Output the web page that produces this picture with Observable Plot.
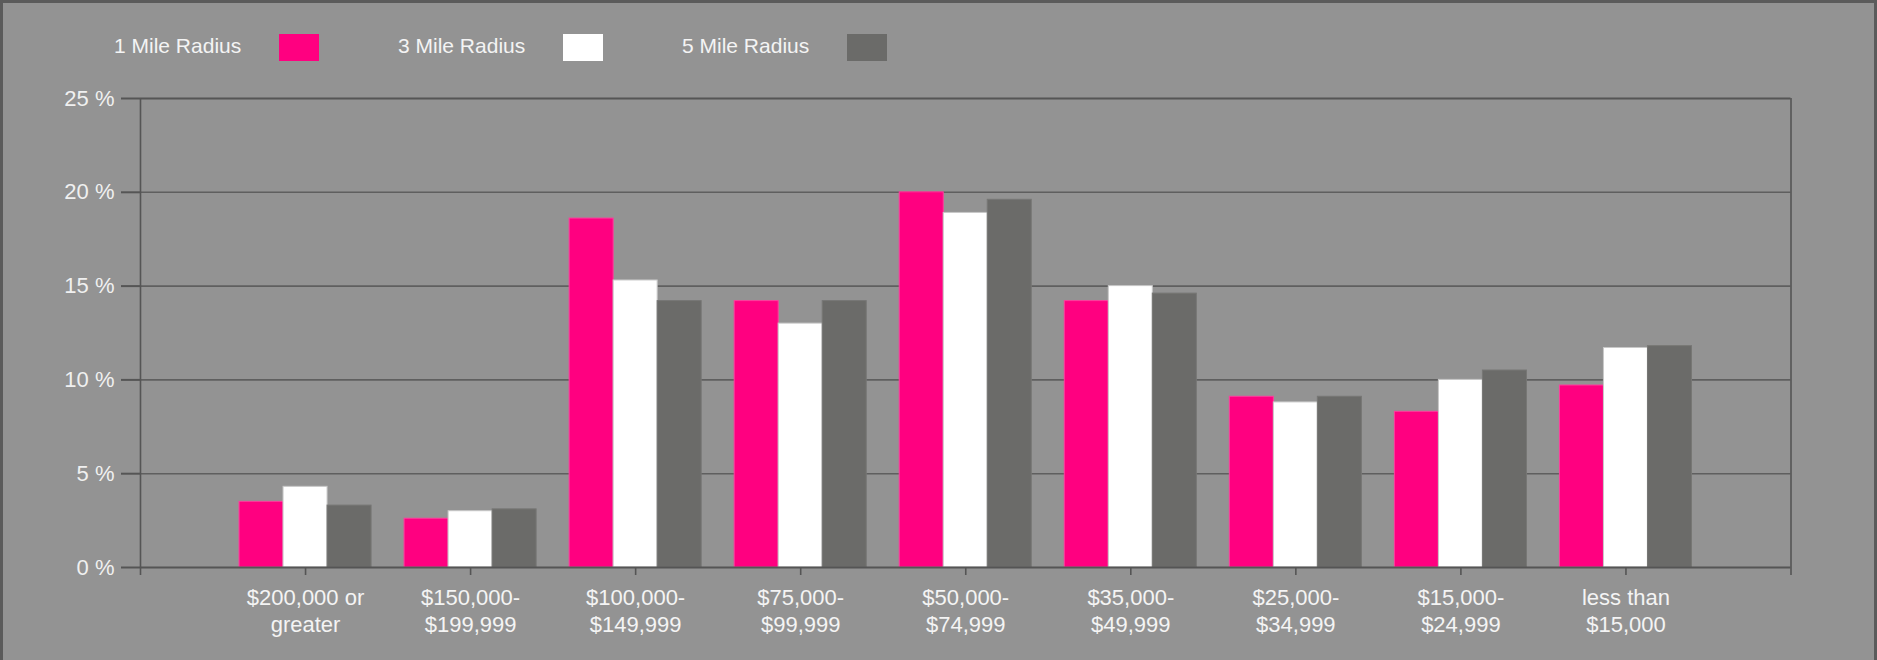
<!DOCTYPE html>
<html>
<head>
<meta charset="utf-8">
<script src="https://cdn.jsdelivr.net/npm/d3@7"></script>
<script src="https://cdn.jsdelivr.net/npm/@observablehq/plot@0.6"></script>
<style>
  html, body { margin: 0; padding: 0; background: #939393; }
  #chart {
    position: relative; width: 1877px; height: 660px; box-sizing: border-box;
    border: 3px solid #5b5b5b; border-bottom: none; background: #939393; overflow: hidden;
    font-family: "Liberation Sans", Arial, sans-serif;
  }
  #legend { position: relative; height: 72px; }
  .lg-text { position: absolute; top: 31px; font-size: 21px; color: #f4f4f4; line-height: 24px; white-space: nowrap; }
  .lg-sw { position: absolute; top: 31px; width: 40px; height: 27px; }
</style>
</head>
<body>
<div id="chart"><div id="legend"></div></div>
<script>
const categories = [
  "$200,000 or\ngreater", "$150,000-\n$199,999", "$100,000-\n$149,999",
  "$75,000-\n$99,999", "$50,000-\n$74,999", "$35,000-\n$49,999",
  "$25,000-\n$34,999", "$15,000-\n$24,999", "less than\n$15,000"
];
const seriesNames = ["1 Mile Radius", "3 Mile Radius", "5 Mile Radius"];
const seriesColors = ["#ff0080", "#ffffff", "#6b6b69"];
const seriesEdges = ["#ff3d9e", "#c8c8c8", "#777775"];
const mile1 = [3.5, 2.6, 18.6, 14.2, 20.0, 14.2, 9.1, 8.3, 9.7];
const mile3 = [4.3, 3.0, 15.3, 13.0, 18.9, 15.0, 8.8, 10.0, 11.7];
const mile5 = [3.3, 3.1, 14.2, 14.2, 19.6, 14.6, 9.1, 10.5, 11.8];
const yTicks = [0, 5, 10, 15, 20, 25];

const seriesValues = [mile1, mile3, mile5];

// Legend
const legend = document.getElementById("legend");
seriesNames.forEach((name, s) => {
  const left = 111 + s * 284;
  const t = document.createElement("div");
  t.className = "lg-text"; t.textContent = name; t.style.left = left + "px";
  legend.appendChild(t);
  const sw = document.createElement("div");
  sw.className = "lg-sw"; sw.style.left = (left + 165) + "px"; sw.style.background = seriesColors[s];
  legend.appendChild(sw);
});

const groupWidth = 0.8;
const barW = groupWidth / seriesNames.length;
const n = categories.length;

const barMarks = seriesValues.map((vals, s) => {
  const rows = vals.map((v, i) => ({cat: i + 1, v}));
  return Plot.rectY(rows, {
    x1: d => d.cat - groupWidth / 2 + s * barW,
    x2: d => d.cat - groupWidth / 2 + (s + 1) * barW,
    y1: 0, y2: "v",
    fill: seriesColors[s],
    stroke: seriesEdges[s], strokeWidth: 1
  });
});

const chart = Plot.plot({
  width: 1871, height: 585,
  marginTop: 23, marginBottom: 93, marginLeft: 137, marginRight: 83.5,
  style: {background: "transparent", fontFamily: "'Liberation Sans', Arial, sans-serif", fontSize: "22px", overflow: "visible"},
  x: {domain: [0, n + 1], axis: null, label: null},
  y: {domain: [0, 25], axis: null, label: null},
  marks: [
    Plot.gridY(yTicks.slice(1, -1), {stroke: "#5f5f5f", strokeOpacity: 1, strokeWidth: 1.6}),
    ...barMarks,
    Plot.ruleY([0, 25], {stroke: "#555", strokeWidth: 2}),
    Plot.ruleX([0, n + 1], {stroke: "#555", strokeWidth: 1.6}),
    Plot.axisY(yTicks, {
      tickSize: 19, tickPadding: 7, tickFormat: d => d + " %", label: null,
      stroke: "#555", strokeWidth: 2, fill: "#f0f0f0", fontSize: 22
    }),
    Plot.axisX(d3.range(0, n + 2), {
      tickSize: 8, tickPadding: 10, tickFormat: i => categories[i - 1] ?? "", label: null,
      stroke: "#555", strokeWidth: 1.6, fill: "#f4f4f4", fontSize: 22, lineHeight: 1.23
    })
  ]
});
document.getElementById("chart").appendChild(chart);
</script>
</body>
</html>
